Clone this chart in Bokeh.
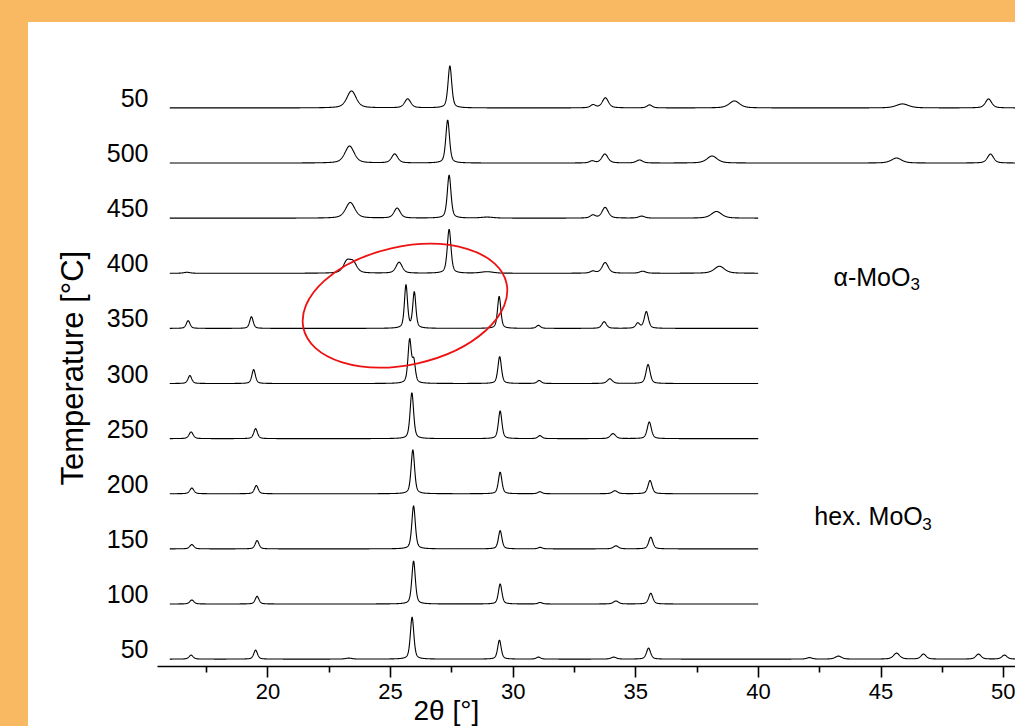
import numpy as np
from bokeh.plotting import figure
from bokeh.layouts import column
from bokeh.models import Range1d, FixedTicker, Label, Title
from bokeh.embed import file_html
from bokeh.resources import INLINE

# ---------------- data ----------------
# stacking order: bottom -> top
temperature_labels = ["50", "100", "150", "200", "250", "300", "350", "400", "450", "500", "50"]
scan_start = 16.0
scan_end = [50.6, 40.0, 40.0, 40.0, 40.0, 40.0, 40.0, 40.0, 40.0, 50.6, 50.6]

# peaks: (2theta [deg], height [counts], FWHM [deg])
peaks_50_initial = [(16.87, 4, 0.2), (19.5, 9, 0.18), (23.3, 1, 0.3), (25.88, 42, 0.17),
                    (29.44, 19, 0.17), (31.03, 2, 0.2), (34.1, 2, 0.25), (35.52, 11, 0.2),
                    (42.08, 1.5, 0.25), (43.26, 3, 0.3), (45.63, 6, 0.3), (46.73, 5, 0.25),
                    (48.97, 5, 0.25), (50.03, 4, 0.25)]
peaks_100 = [(16.9, 4, 0.2), (19.56, 7.7, 0.18), (25.94, 43, 0.17), (29.47, 20, 0.17),
             (31.1, 1.5, 0.2), (34.19, 3, 0.25), (35.61, 10.7, 0.2)]
peaks_150 = [(16.9, 4.3, 0.2), (19.56, 8.3, 0.18), (25.94, 43, 0.17), (29.47, 18.3, 0.17),
             (31.1, 1.5, 0.2), (34.19, 3, 0.25), (35.61, 11.7, 0.2)]
peaks_200 = [(16.9, 5.7, 0.2), (19.53, 8.3, 0.18), (25.91, 44, 0.17), (29.47, 21.7, 0.17),
             (31.09, 2, 0.2), (34.15, 3, 0.25), (35.58, 13.3, 0.2)]
peaks_250 = [(16.87, 6.7, 0.2), (19.5, 10, 0.18), (25.87, 46, 0.17), (29.47, 27.7, 0.17),
             (31.09, 3, 0.2), (34.07, 5, 0.25), (35.55, 16.7, 0.2)]
peaks_300 = [(16.82, 8, 0.18), (19.42, 14, 0.17), (25.78, 43, 0.16), (25.95, 21, 0.15),
             (29.45, 27, 0.17), (31.06, 3, 0.2), (33.94, 4.7, 0.25), (35.5, 19, 0.2)]
peaks_350 = [(16.75, 7.7, 0.18), (19.33, 11.7, 0.17), (25.63, 43, 0.15), (25.97, 36, 0.15),
             (29.43, 32, 0.16), (31.03, 3, 0.2), (33.71, 6.7, 0.22), (35.08, 5, 0.2),
             (35.43, 16.7, 0.2)]
peaks_400 = [(16.7, 1, 0.3), (23.22, 11, 0.35), (23.48, 10, 0.35), (25.35, 11, 0.3),
             (27.39, 44, 0.18), (28.94, 1.5, 0.6), (33.25, 2, 0.25), (33.75, 10.7, 0.3),
             (35.28, 2, 0.3), (38.41, 7, 0.5)]
peaks_450 = [(23.36, 15.7, 0.45), (25.27, 10, 0.3), (27.39, 43, 0.18), (28.94, 1, 0.6),
             (33.25, 3, 0.25), (33.75, 10.7, 0.3), (35.24, 2, 0.3), (38.29, 6.7, 0.5)]
peaks_500 = [(23.33, 17, 0.45), (25.17, 9, 0.3), (27.33, 43, 0.18), (33.22, 2, 0.25),
             (33.74, 9, 0.3), (35.15, 3, 0.3), (38.11, 7, 0.5), (45.63, 5, 0.5),
             (49.46, 9, 0.3)]
peaks_50_final = [(23.41, 17, 0.45), (25.7, 9, 0.3), (27.42, 42, 0.18), (33.26, 3, 0.25),
                  (33.76, 10, 0.3), (35.56, 3, 0.25), (39.02, 7, 0.5), (45.87, 4, 0.6),
                  (49.38, 9, 0.3)]

patterns = [peaks_50_initial, peaks_100, peaks_150, peaks_200, peaks_250, peaks_300,
            peaks_350, peaks_400, peaks_450, peaks_500, peaks_50_final]

x_major_ticks = [20, 25, 30, 35, 40, 45, 50]
x_minor_ticks = [17.5, 22.5, 27.5, 32.5, 37.5, 42.5, 47.5]

# ---------------- styling ----------------
ORANGE = "#F9B862"
FONT = "Liberation Sans"
SPACING = 55.1        # counts per stacking step
BASE_SHIFT = -0.18    # trace baseline relative to its temperature label

p = figure(width=987, height=704, x_range=Range1d(15.5, 50.48), y_range=Range1d(-0.314, 11.37),
           output_backend="svg", toolbar_location=None,
           min_border_left=129, min_border_right=0, min_border_top=0, min_border_bottom=60)
p.margin = (22, 0, 0, 28)
p.styles = {"background-color": "white"}
p.outline_line_color = None
p.xgrid.visible = False
p.ygrid.visible = False
p.background_fill_color = None
p.border_fill_color = None


def profile(x, peaks):
    y = np.zeros_like(x)
    for pos, h, w in peaks:
        d = (x - pos) / (w / 2.0)
        y += h * (0.5 / (1.0 + d * d) + 0.5 * np.exp(-np.log(2.0) * d * d))
    return y


for i, peaks in enumerate(patterns):
    x = np.arange(scan_start, scan_end[i], 0.01)
    y = i + BASE_SHIFT + profile(x, peaks) / SPACING
    p.line(x, y, line_color="black", line_width=1.1)

# x axis
xa = p.xaxis[0]
xa.ticker = FixedTicker(ticks=x_major_ticks, minor_ticks=x_minor_ticks)
xa.axis_line_color = "black"
xa.axis_line_width = 1.6
xa.major_tick_line_width = 1.6
xa.minor_tick_line_width = 1.6
xa.major_tick_out = 11
xa.major_tick_in = 0
xa.minor_tick_out = 6
xa.minor_tick_in = 0
xa.major_label_standoff = 6
xa.major_label_text_font = FONT
xa.major_label_text_font_size = "22px"
xa.major_label_text_color = "black"

# x axis title, left-aligned under the frame at the reference position
p.add_layout(Title(text="2θ [°]", align="left", offset=256, standoff=-17,
                   text_font=FONT, text_font_size="28px", text_font_style="normal",
                   text_color="black"), "below")

# y axis (temperature labels)
ya = p.yaxis[0]
ya.ticker = FixedTicker(ticks=list(range(len(temperature_labels))))
ya.major_label_overrides = {i: t for i, t in enumerate(temperature_labels)}
ya.axis_line_color = None
ya.major_tick_line_color = None
ya.minor_tick_line_color = None
ya.major_tick_out = 0
ya.major_tick_in = 0
ya.major_label_standoff = 9
ya.major_label_text_font = FONT
ya.major_label_text_font_size = "25px"
ya.major_label_text_color = "black"

# y axis title, placed as a side title so it can sit where the reference has it
p.add_layout(Title(text="Temperature [°C]", align="left", offset=181, standoff=28,
                   text_font=FONT, text_font_size="31px", text_font_style="normal",
                   text_color="black"), "left")

# phase annotations
p.add_layout(Label(x=43.06, y=6.746, text="α-MoO", text_font=FONT, text_font_size="25px",
                   text_baseline="alphabetic", text_color="black"))
p.add_layout(Label(x=43.06, y=6.746, x_offset=77, y_offset=-7, text="3", text_font=FONT,
                   text_font_size="17px", text_baseline="alphabetic", text_color="black"))
p.add_layout(Label(x=42.28, y=2.421, text="hex. MoO", text_font=FONT, text_font_size="25px",
                   text_baseline="alphabetic", text_color="black"))
p.add_layout(Label(x=42.28, y=2.421, x_offset=108, y_offset=-8, text="3", text_font=FONT,
                   text_font_size="17px", text_baseline="alphabetic", text_color="black"))

# red highlight ellipse
p.ellipse(x=[25.59], y=[6.232], width=208, height=118, width_units="screen",
          height_units="screen", angle=12.5, angle_units="deg",
          fill_color=None, line_color="#EE1111", line_width=1.8)

layout = column(p, styles={"background-color": ORANGE})

open("out.html", "w").write(file_html(layout, INLINE))
